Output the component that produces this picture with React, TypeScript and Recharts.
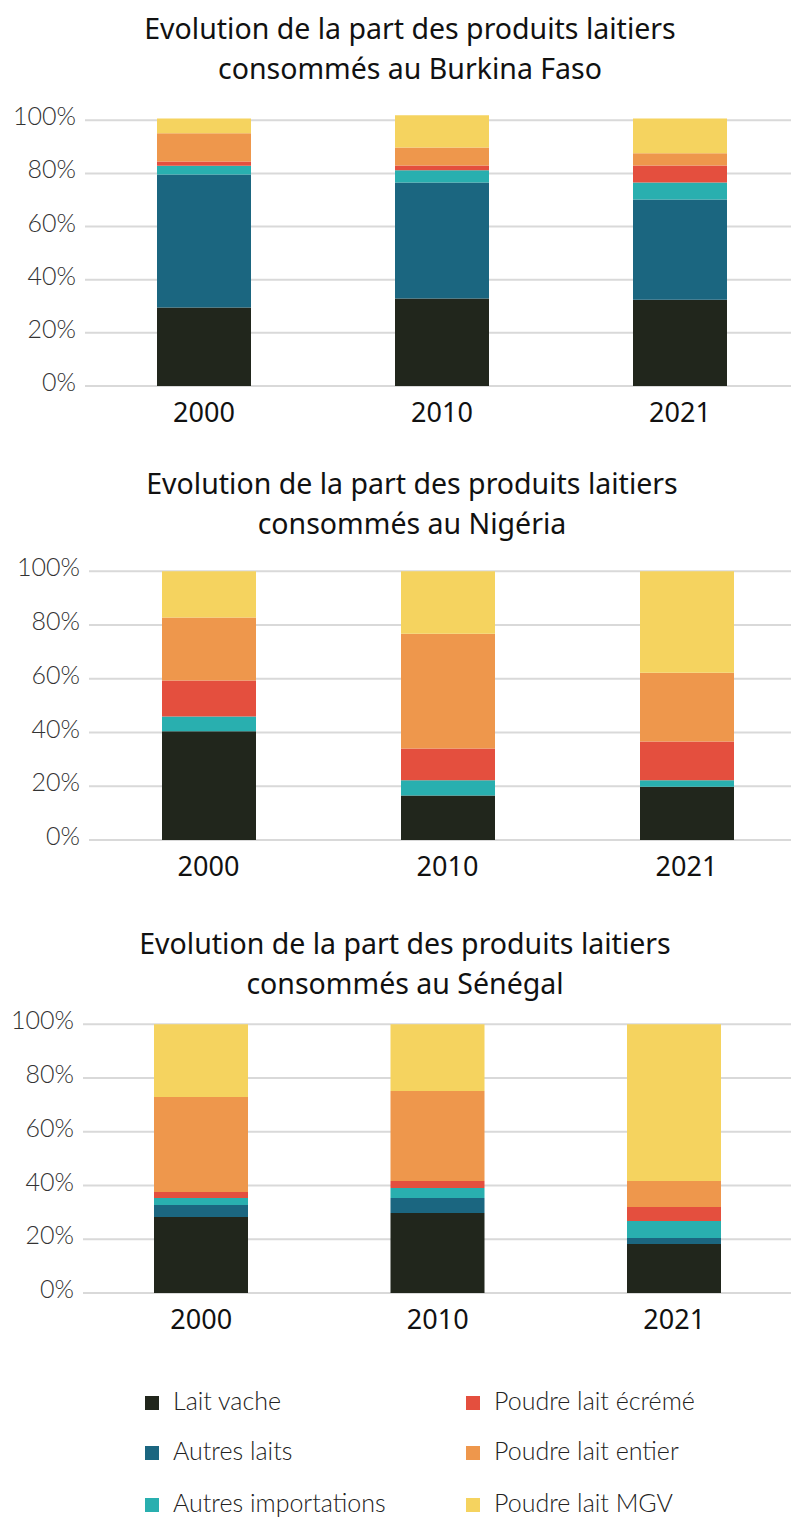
import React from "react";
import { BarChart, Bar, XAxis, YAxis, CartesianGrid } from "recharts";

const years = ["2000", "2010", "2021"];
const seriesNames = [
  "Lait vache",
  "Autres laits",
  "Autres importations",
  "Poudre lait écrémé",
  "Poudre lait entier",
  "Poudre lait MGV",
];
const seriesColors = ["#21261c", "#1b6680", "#29afaf", "#e44f3e", "#ee974c", "#f5d35f"];
const yTicks = [0, 20, 40, 60, 80, 100];

// Burkina Faso
const bfLaitVache = [29.5, 32.9, 32.5];
const bfAutresLaits = [50.1, 43.7, 37.7];
const bfImportations = [3.3, 4.6, 6.4];
const bfEcreme = [1.6, 1.8, 6.4];
const bfEntier = [10.6, 6.8, 4.6];
const bfMgv = [5.6, 12.1, 13.1];

// Nigéria
const ngLaitVache = [40.5, 16.6, 19.8];
const ngAutresLaits = [0, 0, 0];
const ngImportations = [5.5, 5.6, 2.4];
const ngEcreme = [13.4, 11.9, 14.5];
const ngEntier = [23.4, 42.7, 25.6];
const ngMgv = [17.2, 23.2, 37.7];

// Sénégal
const snLaitVache = [28.3, 29.8, 18.2];
const snAutresLaits = [4.5, 5.6, 2.3];
const snImportations = [2.6, 3.7, 6.3];
const snEcreme = [2.2, 2.6, 5.2];
const snEntier = [35.4, 33.5, 9.7];
const snMgv = [27.0, 24.8, 58.3];

const buildRows = (series: number[][]) =>
  years.map((year, i) => {
    const row: Record<string, string | number> = { year };
    series.forEach((s, k) => {
      row["s" + k] = s[i];
    });
    return row;
  });

const burkinaRows = buildRows([bfLaitVache, bfAutresLaits, bfImportations, bfEcreme, bfEntier, bfMgv]);
const nigeriaRows = buildRows([ngLaitVache, ngAutresLaits, ngImportations, ngEcreme, ngEntier, ngMgv]);
const senegalRows = buildRows([snLaitVache, snAutresLaits, snImportations, snEcreme, snEntier, snMgv]);

const titleFont = "'Noto Sans', sans-serif";
const lightFont = "Lato, sans-serif";

const YTick = (props: any) => (
  <text
    x={props.x}
    y={props.y}
    dy={5}
    textAnchor="end"
    fontFamily={lightFont}
    fontWeight={300}
    fontSize={25}
    fill="#333"
  >
    {props.payload.value}%
  </text>
);

type PanelProps = {
  title: string[];
  rows: Record<string, string | number>[];
  top: number;
  plotHeight: number;
  plotLeft: number;
  band: number;
  titleY: number;
  titleX: number;
};

const Panel = ({ title, rows, top, plotHeight, plotLeft, band, titleY, titleX }: PanelProps) => {
  const xAxisH = 50;
  const padTop = 20;
  return (
    <>
      <div
        style={{
          position: "absolute",
          top: titleY - 20,
          left: titleX - 320,
          width: 640,
          textAlign: "center",
          fontFamily: titleFont,
          fontSize: 28.5,
          lineHeight: "40px",
          color: "#111",
          whiteSpace: "nowrap",
        }}
      >
        {title.map((t) => (
          <div key={t}>{t}</div>
        ))}
      </div>
      <div style={{ position: "absolute", top: top - padTop, left: 0 }}>
        <BarChart
          width={plotLeft + band * 3}
          height={plotHeight + xAxisH + padTop}
          data={rows}
          margin={{ top: padTop, right: 0, bottom: 0, left: 0 }}
          barSize={94}
        >
          <CartesianGrid
            horizontal
            vertical={false}
            horizontalValues={yTicks}
            stroke="#d9d9d9"
            strokeWidth={2}
          />
          <XAxis
            dataKey="year"
            axisLine={false}
            tickLine={false}
            tickSize={0}
            tickMargin={17}
            height={xAxisH}
            tick={{ fontFamily: titleFont, fontSize: 27, fill: "#111" }}
          />
          <YAxis
            type="number"
            domain={[0, 102]}
            ticks={yTicks}
            width={plotLeft}
            axisLine={false}
            tickLine={false}
            tickSize={0}
            tickMargin={9}
            tick={YTick}
          />
          {seriesNames.map((name, k) => (
            <Bar
              key={name}
              dataKey={"s" + k}
              name={name}
              stackId="a"
              fill={seriesColors[k]}
              isAnimationActive={false}
            />
          ))}
        </BarChart>
      </div>
    </>
  );
};

const legendPos = [
  { x: 145, y: 1400 },
  { x: 145, y: 1450 },
  { x: 145, y: 1502 },
  { x: 466, y: 1400 },
  { x: 466, y: 1450 },
  { x: 466, y: 1502 },
];

export default function App() {
  return (
    <div
      style={{
        position: "absolute",
        top: 0,
        left: 0,
        width: 791,
        height: 1517,
        overflow: "hidden",
        background: "#fff",
      }}
    >
      <Panel
        title={["Evolution de la part des produits laitiers", "consommés au Burkina Faso"]}
        rows={burkinaRows}
        top={115}
        plotHeight={271}
        plotLeft={85}
        band={238}
        titleY={28}
        titleX={410}
      />
      <Panel
        title={["Evolution de la part des produits laitiers", "consommés au Nigéria"]}
        rows={nigeriaRows}
        top={566}
        plotHeight={274}
        plotLeft={89}
        band={239}
        titleY={483}
        titleX={412}
      />
      <Panel
        title={["Evolution de la part des produits laitiers", "consommés au Sénégal"]}
        rows={senegalRows}
        top={1019}
        plotHeight={274}
        plotLeft={83}
        band={236.5}
        titleY={943}
        titleX={405}
      />
      {seriesNames.map((name, k) => (
        <div
          key={name}
          style={{
            position: "absolute",
            left: legendPos[k].x,
            top: legendPos[k].y - 15,
            height: 30,
            lineHeight: "30px",
            fontFamily: lightFont,
            fontWeight: 300,
            fontSize: 25,
            color: "#222",
            whiteSpace: "nowrap",
          }}
        >
          <span
            style={{
              display: "inline-block",
              width: 14,
              height: 14,
              background: seriesColors[k],
              marginRight: 14,
              verticalAlign: "baseline",
            }}
          />
          {name}
        </div>
      ))}
    </div>
  );
}
